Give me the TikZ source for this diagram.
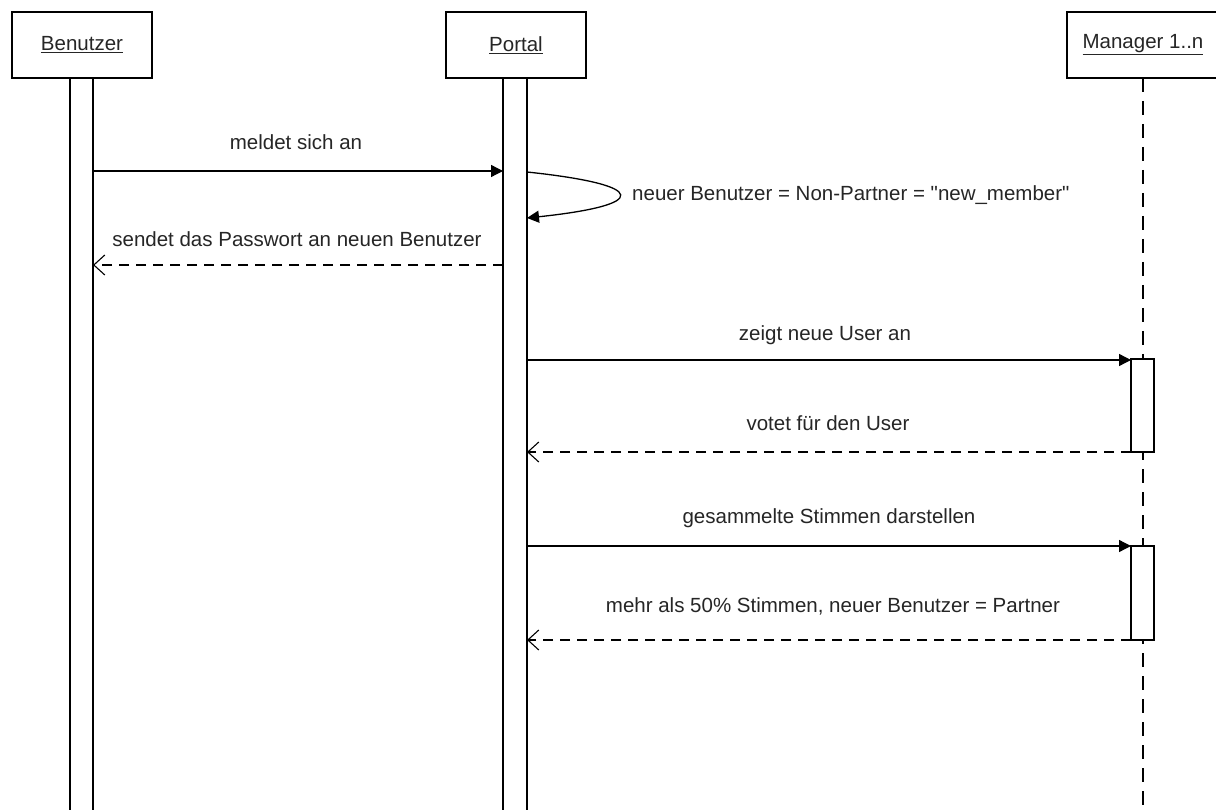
\documentclass[tikz,border=0pt]{standalone}
\usepackage{fontspec}
\setmainfont{Liberation Sans}[Ligatures=TeXOff]
\usetikzlibrary{arrows.meta}
\begin{document}
\begin{tikzpicture}[x=1pt,y=-1pt,
  every node/.style={font=\fontsize{20.5}{24}\selectfont, text=black!85},
  head/.style={draw, line width=1.3pt, fill=white, minimum width=140pt, minimum height=66pt, inner sep=0pt},
  bar/.style={draw, line width=1.3pt, fill=white},
  life/.style={line width=1.3pt, dash pattern=on 14pt off 9pt},
  call/.style={line width=1.3pt, -{Triangle[length=12pt,width=12pt]}},
  reply/.style={line width=1.1pt, dash pattern=on 10pt off 7pt, -{Straight Barb[length=11pt,width=20pt,line width=1.1pt]}},
  msg/.style={inner sep=0pt, anchor=base}]
\useasboundingbox (0,0) rectangle (1216,810);
\clip (0,0) rectangle (1216,810);
\fill[white] (0,0) rectangle (1216,810);

% lifelines
\draw[bar] (70,78) rectangle (93,830);
\draw[bar] (503,78) rectangle (527,830);
\draw[life] (1143,78) -- (1143,830);

% header boxes
\node[head] (benutzer) at (82,45) {\underline{Benutzer}};
\node[head] (portal) at (516,45) {\underline{Portal}};
\node[head, minimum width=152pt] (manager) at (1143,45) {\underline{Manager 1..n}};

% activation boxes of the manager
\draw[bar] (1131,359) rectangle (1154,452);
\draw[bar] (1131,546) rectangle (1154,640);

% message end points
\coordinate (b1) at (93,171);   \coordinate (p1) at (503,171);
\coordinate (s0) at (527,172);  \coordinate (s1) at (527,218);
\coordinate (p2) at (503,265);  \coordinate (b2) at (93,265);
\coordinate (p3) at (527,360);  \coordinate (m3) at (1131,360);
\coordinate (m4) at (1131,452); \coordinate (p4) at (527,452);
\coordinate (p5) at (527,546);  \coordinate (m5) at (1131,546);
\coordinate (m6) at (1131,640); \coordinate (p6) at (527,640);

% messages
\draw[call] (b1) -- (p1);
\node[msg] (t1) at (296,150) {meldet sich an};

\draw[call] (s0) .. controls (650,185) and (650,205) .. (s1);
\node[msg, anchor=west] (t2) at (632,195) {neuer Benutzer = Non-Partner = "new\_member"};

\draw[reply] (p2) -- (b2);
\node[msg] (t3) at (297,247) {sendet das Passwort an neuen Benutzer};

\draw[call] (p3) -- (m3);
\node[msg] (t4) at (825,341) {zeigt neue User an};

\draw[reply] (m4) -- (p4);
\node[msg] (t5) at (828,430) {votet für den User};

\draw[call] (p5) -- (m5);
\node[msg] (t6) at (829,523) {gesammelte Stimmen darstellen};

\draw[reply] (m6) -- (p6);
\node[msg] (t7) at (833,612) {mehr als 50\% Stimmen, neuer Benutzer = Partner};
\end{tikzpicture}
\end{document}
